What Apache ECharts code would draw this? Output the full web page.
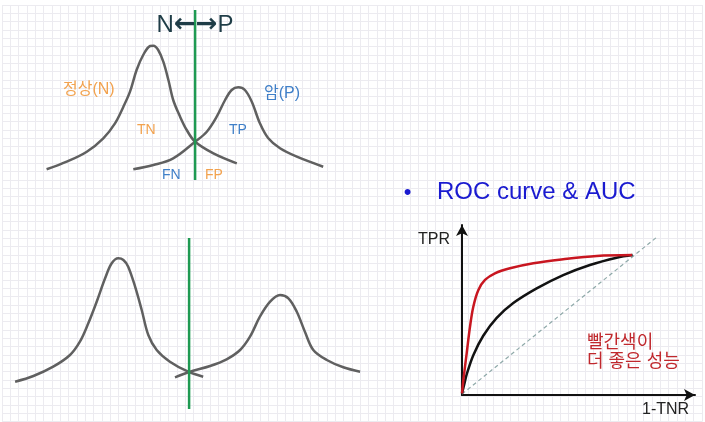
<!DOCTYPE html>
<html><head><meta charset="utf-8">
<script src="https://cdn.jsdelivr.net/npm/echarts@6/dist/echarts.min.js"></script>
<style>html,body{margin:0;padding:0;background:#fff}#c{width:705px;height:422px}</style>
</head><body><div id="c"></div><script>
// ---- top panel: score vs density (arbitrary units) ----
const topNormal = [[2.2,1.07],[8.9,1.83],[15.6,2.83],[21.1,4.17],[25,5.67],[27.8,7.33],[30,8.83],[32.2,11],[34.4,12.5],[36.7,13.4],[37.8,13.43],[39.4,13],[41.1,11.83],[42.8,10],[44.4,8],[46.7,6.33],[48.9,5],[51.7,3.83],[57.8,2.67],[65.6,1.67]];
const topCancer = [[31.1,1.07],[37.8,1.5],[44.4,2.17],[51.7,3.83],[55.6,4.83],[58.9,6.33],[61.7,8],[63.9,9],[66.1,9.27],[68.3,9],[70.6,7.83],[73.3,5.67],[76.1,4.17],[80,3.17],[85.6,2.33],[94.4,1.33]];
const topThreshold = [[51.7,0],[51.7,17]];
// ---- bottom panel ----
const botNormal = [[1.7,2.83],[7.8,3.4],[14.4,4.33],[20,5.5],[23.3,6.83],[26.1,8.67],[28.9,10.83],[31.7,13.17],[33.9,14.67],[36.1,15.17],[37.8,15],[39.4,14.33],[41.7,12.33],[43.9,10],[46.1,7.5],[48.9,6],[53.3,4.83],[59.4,3.83],[64.4,3.33]];
const botCancer = [[55,3.27],[60,3.83],[66.7,4.4],[72.2,5.07],[76.7,6],[80,7.33],[83.3,9.33],[86.7,10.83],[90,11.5],[92.8,11.17],[95.6,9.83],[98.3,7.83],[101.1,6],[105.6,5],[111.1,4.27],[116.7,3.83]];
const botThreshold = [[59.7,0.1],[59.7,17.2]];
// ---- ROC panel: 1-TNR vs TPR ----
const rocRed = [[0,0.01],[0.007,0.095],[0.024,0.264],[0.041,0.432],[0.058,0.559],[0.084,0.665],[0.118,0.728],[0.169,0.770],[0.246,0.802],[0.366,0.834],[0.519,0.859],[0.691,0.880],[0.872,0.886]];
const rocBlack = [[0,0.01],[0.012,0.07],[0.024,0.13],[0.058,0.252],[0.109,0.375],[0.178,0.488],[0.263,0.582],[0.383,0.675],[0.519,0.759],[0.656,0.823],[0.793,0.869],[0.875,0.886]];
const rocDiagonal = [[0,0.006],[1,1]];
// ---- texts ----
const arrowTitle = ['N','←→','P'];
const normalLabel = '정상(N)';
const cancerLabel = '암(P)';
const quadrantLabels = ['TN','TP','FN','FP'];
const rocTitle = 'ROC curve & AUC';
const rocAxisNames = ['1-TNR','TPR'];
const noteLines = ['빨간색이','더 좋은 성능'];

const FONT = '"Liberation Sans", "Noto Sans CJK KR", sans-serif';
const ORANGE = '#f2a24e', BLUE = '#3f7fc8', GRAY = '#606060', GREEN = '#1f9a52';

function txt(text, x, y, size, color, align){
  return {type:'text', x:x, y:y, z:100,
    style:{text:text, fill:color, font: size+'px '+FONT,
      textAlign: align||'left', align: align||'left',
      textVerticalAlign:'middle', verticalAlign:'middle'}};
}
const hidden = {axisLine:{show:false},axisTick:{show:false},axisLabel:{show:false},splitLine:{show:false}};

function curve(data, xi, color, width){
  return {type:'line', xAxisIndex:xi, yAxisIndex:xi, data:data, smooth:0.35, showSymbol:false,
    silent:true, clip:false, lineStyle:{color:color, width:width}, z:3};
}

const chart = echarts.init(document.getElementById('c'), null, {renderer:'canvas'});
chart.setOption({
  animation:false,
  backgroundColor:'#ffffff',
  grid:[
    {left:2, top:5, width:700, height:416.67},
    {left:40, top:10, width:300, height:170},
    {left:10, top:230, width:360, height:180},
    {left:462, top:225, width:233, height:170}
  ],
  xAxis:[
    {type:'value', gridIndex:0, min:0, max:84, interval:1, axisLine:{show:false},axisTick:{show:false},axisLabel:{show:false},
      splitLine:{show:true, lineStyle:{color:'#ecebf0', width:1}}},
    Object.assign({type:'value', gridIndex:1, min:0, max:100}, hidden),
    Object.assign({type:'value', gridIndex:2, min:0, max:120}, hidden),
    {type:'value', gridIndex:3, min:0, max:233/195, axisTick:{show:false},axisLabel:{show:false},splitLine:{show:false},
      axisLine:{show:true, onZero:false, symbol:['none','arrow'], symbolSize:[9,11], lineStyle:{color:'#111', width:2}}}
  ],
  yAxis:[
    {type:'value', gridIndex:0, min:0, max:50, interval:1, axisLine:{show:false},axisTick:{show:false},axisLabel:{show:false},
      splitLine:{show:true, lineStyle:{color:'#ecebf0', width:1}}},
    Object.assign({type:'value', gridIndex:1, min:0, max:17}, hidden),
    Object.assign({type:'value', gridIndex:2, min:0, max:18}, hidden),
    {type:'value', gridIndex:3, min:0, max:170/158, axisTick:{show:false},axisLabel:{show:false},splitLine:{show:false},
      axisLine:{show:true, onZero:false, symbol:['none','arrow'], symbolSize:[9,11], lineStyle:{color:'#111', width:2}}}
  ],
  series:[
    curve(topNormal,1,GRAY,2.5),
    curve(topCancer,1,GRAY,2.5),
    {type:'line', xAxisIndex:1, yAxisIndex:1, data:topThreshold, showSymbol:false, silent:true, clip:false, z:4,
      lineStyle:{color:GREEN, width:2.5}},
    curve(botNormal,2,GRAY,2.5),
    curve(botCancer,2,GRAY,2.5),
    {type:'line', xAxisIndex:2, yAxisIndex:2, data:botThreshold, showSymbol:false, silent:true, clip:false, z:4,
      lineStyle:{color:GREEN, width:2.5}},
    {type:'line', xAxisIndex:3, yAxisIndex:3, data:rocDiagonal, showSymbol:false, silent:true, z:2,
      lineStyle:{color:'#8fa9a9', width:1.2, type:[4,3]}},
    curve(rocBlack,3,'#121212',2.5),
    curve(rocRed,3,'#c81620',2.5)
  ],
  graphic:[
    {type:'text', x:195, y:25, z:100, style:{
      text:'{n|'+arrowTitle[0]+'}{a|'+arrowTitle[1]+'}{n|'+arrowTitle[2]+'}',
      textAlign:'center', align:'center', textVerticalAlign:'middle', verticalAlign:'middle',
      rich:{
        n:{fill:'#1f3d47', font:'24px '+FONT},
        a:{fill:'#1f3d47', font:'bold 26px "DejaVu Sans", sans-serif'}
      }}},
    txt(normalLabel,63,90,16,ORANGE),
    txt(cancerLabel,264,94,16,BLUE),
    txt(quadrantLabels[0],137,130,14,ORANGE),
    txt(quadrantLabels[1],229,130,14,BLUE),
    txt(quadrantLabels[2],162,175,14,BLUE),
    txt(quadrantLabels[3],205,175,14,ORANGE),
    txt('•',407.5,193,22,'#1a1ad0','center'),
    txt(rocTitle,437,192,24,'#1a1ad0'),
    txt(rocAxisNames[1],418,240,16,'#222222'),
    txt(rocAxisNames[0],642,410,16,'#222222'),
    txt(noteLines[0],587,343,18,'#c0282d'),
    txt(noteLines[1],587,362,18,'#c0282d')
  ]
});
</script></body></html>
